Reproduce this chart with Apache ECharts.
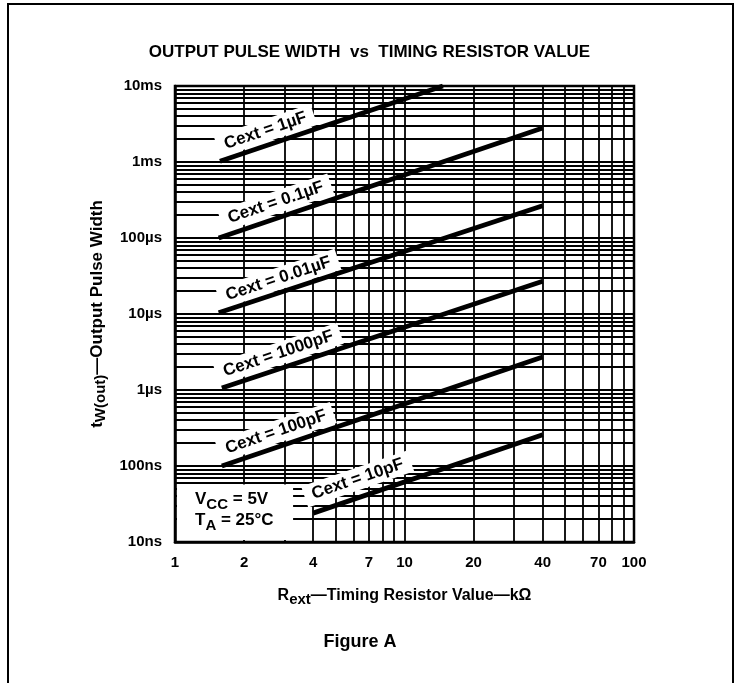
<!DOCTYPE html>
<html><head><meta charset="utf-8">
<script src="https://cdn.jsdelivr.net/npm/echarts@6/dist/echarts.min.js"></script>
<style>html,body{margin:0;padding:0;background:#fff}#c{width:739px;height:683px}</style>
</head><body><div id="c"></div>
<script>
// ---- data (R in kOhm, tw in ns) ----
const xTickValues = [1, 2, 4, 7, 10, 20, 40, 70, 100];
const yTickValues = [10, 100, 1000, 10000, 100000, 1000000, 10000000];
const yTickLabels = ['10ns', '100ns', '1\u00b5s', '10\u00b5s', '100\u00b5s', '1ms', '10ms'];
const seriesNames = ['Cext = 1\u00b5F', 'Cext = 0.1\u00b5F', 'Cext = 0.01\u00b5F', 'Cext = 1000pF', 'Cext = 100pF', 'Cext = 10pF'];
const c1uF   = [[1.57, 1.02e6], [14.7, 1.0e7]];
const c01uF  = [[1.55, 1.0e5],  [40, 2.8e6]];
const c001uF = [[1.55, 1.04e4], [40, 2.65e5]];
const c1000p = [[1.6, 1.06e3],  [40, 2.7e4]];
const c100p  = [[1.6, 100],     [40, 2.72e3]];
const c10p   = [[4.0, 24],      [40, 257]];
const curves = [c1uF, c01uF, c001uF, c1000p, c100p, c10p];
// label anchors (data coords) for the curve annotations
const labelAnchors = [[2.48, 2.58e6], [2.75, 2.93e5], [2.82, 2.91e4], [2.82, 3.0e3], [2.75, 280], [6.25, 67.5]];

// log grid lines
const xGrid = [];
for (const d of [1, 10]) for (let m = 1; m <= 9; m++) xGrid.push(m * d);
xGrid.push(100);
const yGrid = [];
for (const d of [10, 100, 1000, 1e4, 1e5, 1e6]) for (let m = 1; m <= 9; m++) yGrid.push(m * d);
yGrid.push(1e7);

const FONT = 'Liberation Sans';
const chart = echarts.init(document.getElementById('c'), null, {renderer: 'canvas'});

const series = [{
  type: 'line', data: [], z: 1, silent: true,
  markLine: {
    z: 1, silent: true, symbol: ['none', 'none'], animation: false,
    label: {show: false},
    lineStyle: {color: '#000', width: 1.8, type: 'solid'},
    emphasis: {disabled: true},
    data: xGrid.map(v => ({xAxis: v})).concat(yGrid.map(v => ({yAxis: v})))
  }
}];
curves.forEach((d, i) => series.push({
  name: seriesNames[i], type: 'line', data: d, symbol: 'none', z: 8,
  lineStyle: {color: '#000', width: 4.8}, animation: false
}));

chart.setOption({
  animation: false,
  backgroundColor: '#fff',
  title: {
    text: 'OUTPUT PULSE WIDTH  vs  TIMING RESISTOR VALUE',
    left: 'center', top: 39,
    textStyle: {fontFamily: FONT, fontWeight: 'bold', fontSize: 17, color: '#000'}
  },
  grid: {left: 175, right: 105, top: 86, bottom: 141, show: true, borderColor: '#000', borderWidth: 2.5, backgroundColor: 'transparent'},
  xAxis: {
    type: 'log', logBase: 10, min: 1, max: 100,
    axisLine: {show: true, lineStyle: {color: '#000', width: 2.5}},
    axisTick: {show: false}, splitLine: {show: false}, minorSplitLine: {show: false},
    axisLabel: {customValues: xTickValues, margin: 13, color: '#000', fontFamily: FONT, fontWeight: 'bold', fontSize: 15,
      formatter: v => String(Math.round(v))},
    name: 'R{sub|ext}\u2014Timing Resistor Value\u2014k\u03a9',
    nameLocation: 'middle', nameGap: 42,
    nameTextStyle: {color: '#000', fontFamily: FONT, fontWeight: 'bold', fontSize: 16,
      rich: {sub: {fontFamily: FONT, fontWeight: 'bold', fontSize: 15, color: '#000', padding: [8, 0, 0, 0]}}}
  },
  yAxis: {
    type: 'log', logBase: 10, min: 10, max: 1e7,
    axisLine: {show: true, lineStyle: {color: '#000', width: 2.5}},
    axisTick: {show: false}, splitLine: {show: false}, minorSplitLine: {show: false},
    axisLabel: {customValues: yTickValues, margin: 13, color: '#000', fontFamily: FONT, fontWeight: 'bold', fontSize: 15,
      formatter: v => yTickLabels[Math.round(Math.log10(v)) - 1]},
    name: 't{sub|W(out)}\u2014Output Pulse Width',
    nameLocation: 'middle', nameGap: 66, nameRotate: 90,
    nameTextStyle: {color: '#000', fontFamily: FONT, fontWeight: 'bold', fontSize: 17,
      rich: {sub: {fontFamily: FONT, fontWeight: 'bold', fontSize: 15, color: '#000', padding: [8, 0, 0, 0]}}}
  },
  series: series
});

// annotations
const px = p => chart.convertToPixel({gridIndex: 0}, p);
const gfx = [];
// outer frame
gfx.push({type: 'rect', z: 50, silent: true, shape: {x: 8, y: 4, width: 725, height: 720},
  style: {fill: 'none', stroke: '#000', lineWidth: 2}});
// conditions box (white, covers grid)
const bl = px([1, 10]);
const tr = px([3.27, 57]);
gfx.push({type: 'rect', z: 3, silent: true,
  shape: {x: bl[0] + 2, y: tr[1], width: tr[0] - bl[0] - 2, height: bl[1] - tr[1] - 2},
  style: {fill: '#fff'}});
gfx.push({type: 'text', z: 6, silent: true, x: bl[0] + 20, y: tr[1] + 15,
  style: {text: 'V{s|CC} = 5V', fill: '#000', font: 'bold 17px ' + FONT, verticalAlign: 'middle',
    rich: {s: {font: 'bold 15px ' + FONT, fill: '#000', padding: [10, 0, 0, 0]}}}});
gfx.push({type: 'text', z: 6, silent: true, x: bl[0] + 20, y: tr[1] + 36,
  style: {text: 'T{s|A} = 25\u00b0C', fill: '#000', font: 'bold 17px ' + FONT, verticalAlign: 'middle',
    rich: {s: {font: 'bold 15px ' + FONT, fill: '#000', padding: [10, 0, 0, 0]}}}});
// curve labels
curves.forEach((d, i) => {
  const a = px(d[0]), b = px(d[d.length - 1]);
  const ang = Math.atan2(a[1] - b[1], b[0] - a[0]);
  const c = px(labelAnchors[i]);
  gfx.push({type: 'text', z: 6, silent: true, x: c[0], y: c[1], rotation: ang, originX: 0, originY: 0,
    style: {text: seriesNames[i], fill: '#000', font: 'bold 17px ' + FONT, align: 'center', verticalAlign: 'middle',
      backgroundColor: '#fff', padding: [3, 8, 2, 8]}});
});
// figure caption
gfx.push({type: 'text', z: 6, silent: true, x: 360, y: 642,
  style: {text: 'Figure A', fill: '#000', font: 'bold 18px ' + FONT, align: 'center', verticalAlign: 'middle'}});
chart.setOption({graphic: {elements: gfx}});
</script></body></html>
